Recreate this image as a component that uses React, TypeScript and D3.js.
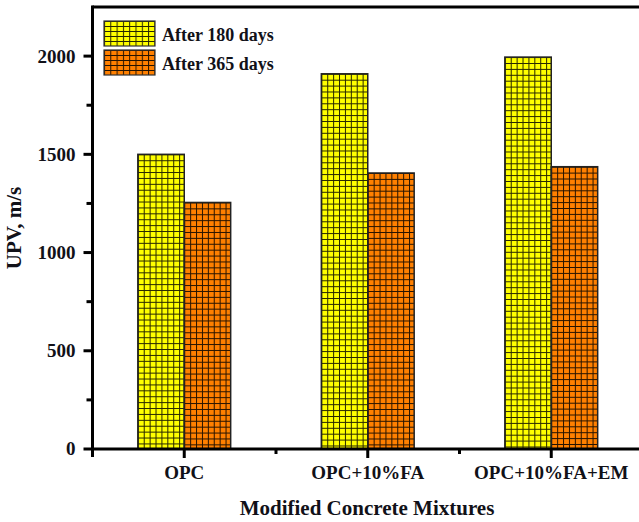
import React from "react";
import * as d3 from "d3";

const categories = ["OPC", "OPC+10%FA", "OPC+10%FA+EM"];
const seriesNames = ["After 180 days", "After 365 days"];
const after180 = [1500, 1910, 1995];
const after365 = [1255, 1405, 1437];
const yMajorTicks = [0, 500, 1000, 1500, 2000];
const yMinorTicks = [250, 750, 1250, 1750];
const seriesColors = ["#ffff00", "#ff8000"];

const W = 639;
const H = 522;
const FONT = "'Liberation Serif', 'Times New Roman', serif";
const INK = "#111118";

export default function App() {
  const x = d3.scaleLinear().domain([0.5, 3.5]).range([92.5, 643]);
  const y = d3.scaleLinear().domain([0, 2250]).range([449, 7]);
  const step = x(2) - x(1);
  const barW = step * 0.253;
  const series = [after180, after365];

  const bars: { key: string; x: number; y: number; w: number; h: number; s: number }[] = [];
  categories.forEach((c, i) => {
    series.forEach((vals, s) => {
      const cx = x(i + 1);
      const left = s === 0 ? cx - barW : cx;
      bars.push({ key: `bar${i}s${s}`, x: left, y: y(vals[i]), w: barW, h: y(0) - y(vals[i]), s });
    });
  });

  const minorX = [1.5, 2.5];
  const plotLeft = x(0.5);
  const plotTop = y(2250);
  const plotBottom = y(0);

  return (
    <svg
      width={W}
      height={H}
      style={{ position: "absolute", left: 0, top: 0, background: "#fff" }}
      fontFamily={FONT}
    >
      <defs>
        {bars.map((b) => (
          <pattern
            key={b.key}
            id={`grid-${b.key}`}
            patternUnits="userSpaceOnUse"
            x={b.x}
            y={b.y}
            width={5.9}
            height={5.9}
          >
            <rect width={5.9} height={5.9} fill={seriesColors[b.s]} />
            <path d="M0,0.5H5.9M0.5,0V5.9" stroke="#000" strokeOpacity={0.85} strokeWidth={1} />
          </pattern>
        ))}
        {[0, 1].map((s) => (
          <pattern
            key={s}
            id={`legend-${s}`}
            patternUnits="userSpaceOnUse"
            x={104}
            y={s === 0 ? 21 : 50}
            width={6.3}
            height={5}
          >
            <rect width={6.3} height={5} fill={seriesColors[s]} />
            <path d="M0,0.5H6.3M0.5,0V5" stroke="#000" strokeOpacity={0.85} strokeWidth={1} />
          </pattern>
        ))}
      </defs>

      {/* bars */}
      {bars.map((b) => (
        <rect
          key={b.key}
          x={b.x}
          y={b.y}
          width={b.w}
          height={b.h}
          fill={`url(#grid-${b.key})`}
          stroke="#222"
          strokeWidth={1.5}
        />
      ))}

      {/* frame */}
      <line x1={plotLeft} x2={W + 5} y1={plotTop} y2={plotTop} stroke="#000" strokeWidth={3} />
      <line x1={plotLeft} x2={W + 5} y1={plotBottom} y2={plotBottom} stroke="#000" strokeWidth={3} />
      <line x1={plotLeft} x2={plotLeft} y1={plotTop - 1.5} y2={plotBottom + 1.5} stroke="#000" strokeWidth={3} />

      {/* y ticks */}
      {yMajorTicks.map((t) => (
        <g key={t}>
          <line x1={plotLeft - 9} x2={plotLeft} y1={y(t)} y2={y(t)} stroke="#000" strokeWidth={3} />
          <text
            x={plotLeft - 17}
            y={y(t)}
            dy="0.34em"
            textAnchor="end"
            fontSize={19}
            fontWeight="bold"
            fill={INK}
          >
            {t}
          </text>
        </g>
      ))}
      {yMinorTicks.map((t) => (
        <line key={t} x1={plotLeft - 6} x2={plotLeft} y1={y(t)} y2={y(t)} stroke="#000" strokeWidth={3} />
      ))}

      {/* x ticks */}
      <line x1={plotLeft} x2={plotLeft} y1={plotBottom} y2={plotBottom + 8} stroke="#000" strokeWidth={3} />
      {categories.map((c, i) => (
        <g key={c}>
          <line x1={x(i + 1)} x2={x(i + 1)} y1={plotBottom} y2={plotBottom + 9} stroke="#000" strokeWidth={3} />
          <text x={x(i + 1)} y={479} textAnchor="middle" fontSize={19} fontWeight="bold" fill={INK}>
            {c}
          </text>
        </g>
      ))}
      {minorX.map((m) => (
        <line key={m} x1={x(m)} x2={x(m)} y1={plotBottom} y2={plotBottom + 5} stroke="#000" strokeWidth={3} />
      ))}

      {/* axis titles */}
      <text x={367} y={515} textAnchor="middle" fontSize={21} fontWeight="bold" fill={INK}>
        Modified Concrete Mixtures
      </text>
      <text
        transform={`translate(21, ${y(1125)}) rotate(-90)`}
        textAnchor="middle"
        fontSize={21}
        fontWeight="bold"
        fill={INK}
      >
        UPV, m/s
      </text>

      {/* legend */}
      {seriesNames.map((name, s) => {
        const top = s === 0 ? 21 : 50;
        return (
          <g key={name}>
            <rect x={104} y={top} width={51} height={25} fill={`url(#legend-${s})`} stroke="#333" strokeWidth={1.2} />
            <text x={162} y={top + 20} fontSize={18} fontWeight="bold" fill={INK}>
              {name}
            </text>
          </g>
        );
      })}
    </svg>
  );
}
